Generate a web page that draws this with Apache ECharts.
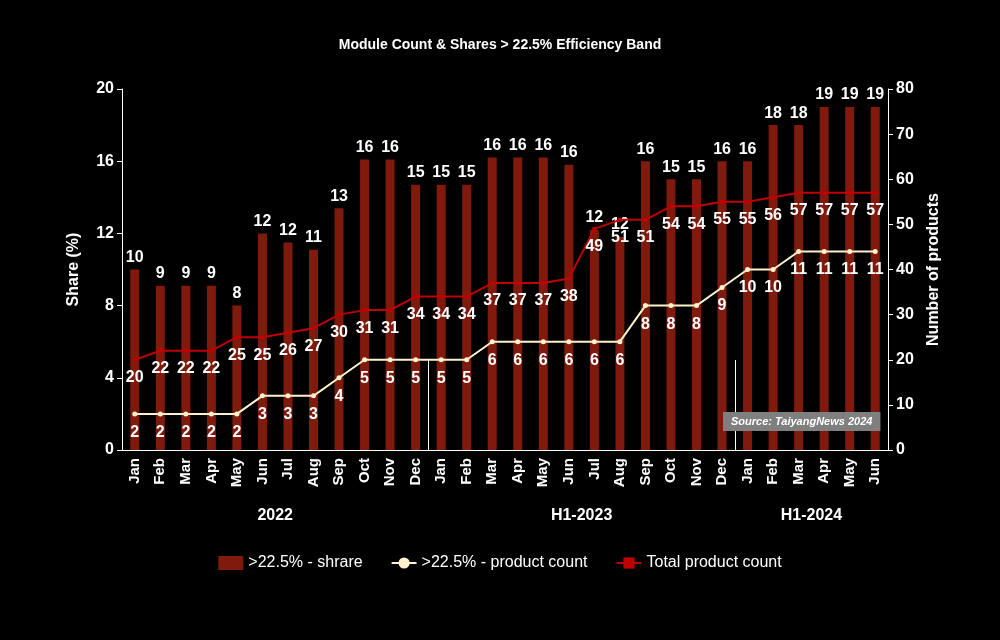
<!DOCTYPE html>
<html><head><meta charset="utf-8">
<script src="https://cdn.jsdelivr.net/npm/echarts@6/dist/echarts.min.js"></script>
<style>html,body{margin:0;background:#000}#c{width:1000px;height:640px}</style>
</head><body><div id="c"></div>
<script>
const months=['Jan','Feb','Mar','Apr','May','Jun','Jul','Aug','Sep','Oct','Nov','Dec','Jan','Feb','Mar','Apr','May','Jun','Jul','Aug','Sep','Oct','Nov','Dec','Jan','Feb','Mar','Apr','May','Jun'];
const groups=['2022','H1-2023','H1-2024'];
const groupCenters=[6,18,27];
const groupBounds=[0,12,24,30];
const share=[10,9.1,9.1,9.1,8,12,11.5,11.1,13.4,16.1,16.1,14.7,14.7,14.7,16.2,16.2,16.2,15.8,12.2,11.8,16,15,15,16,16,18,18,19,19,19];
const shareLabels=[10,9,9,9,8,12,12,11,13,16,16,15,15,15,16,16,16,16,12,12,16,15,15,16,16,18,18,19,19,19];
const count=[2,2,2,2,2,3,3,3,4,5,5,5,5,5,6,6,6,6,6,6,8,8,8,9,10,10,11,11,11,11];
const total=[20,22,22,22,25,25,26,27,30,31,31,34,34,34,37,37,37,38,49,51,51,54,54,55,55,56,57,57,57,57];
const W='#fff', F='Liberation Sans';
const lbl={color:W,fontWeight:'bold',fontSize:16,fontFamily:F};
const chart=echarts.init(document.getElementById('c'));
chart.setOption({
 backgroundColor:'#000',animation:false,
 title:{text:'Module Count & Shares > 22.5% Efficiency Band',left:'center',top:33,textStyle:{color:W,fontSize:14,fontWeight:'bold',fontFamily:F}},
 grid:{left:122,right:112,top:89,bottom:190},
 legend:{bottom:64,left:'center',itemGap:28,textStyle:{color:W,fontSize:16,fontFamily:F},
  data:[{name:'>22.5% - shrare',icon:'rect'},{name:'>22.5% - product count'},{name:'Total product count'}]},
 xAxis:[{type:'category',data:months,axisLine:{lineStyle:{color:W}},
   axisTick:{length:50,lineStyle:{color:W}},
   axisLabel:{rotate:90,color:W,fontSize:15,fontWeight:'bold',fontFamily:F,margin:8}},
  {type:'value',min:0,max:30,position:'bottom',offset:90,axisLine:{show:false},splitLine:{show:false},
   axisTick:{show:true,inside:true,length:90,customValues:groupBounds,lineStyle:{color:W}},
   axisLabel:{show:true,customValues:groupCenters,formatter:v=>groups[groupCenters.indexOf(v)],color:W,fontSize:16,fontWeight:'bold',fontFamily:F,margin:-32}}],
 yAxis:[{type:'value',min:0,max:20,interval:4,name:'Share (%)',nameLocation:'middle',nameGap:40,
   nameTextStyle:{color:W,fontSize:16,fontWeight:'bold',fontFamily:F},
   axisLine:{show:true,lineStyle:{color:W}},axisTick:{show:true,lineStyle:{color:W}},splitLine:{show:false},
   axisLabel:{color:W,fontSize:16,fontWeight:'bold',fontFamily:F}},
  {type:'value',min:0,max:80,interval:10,name:'Number of products',nameLocation:'middle',nameGap:38,
   nameTextStyle:{color:W,fontSize:16,fontWeight:'bold',fontFamily:F},
   axisLine:{show:true,lineStyle:{color:W}},axisTick:{show:true,lineStyle:{color:W}},splitLine:{show:false},
   axisLabel:{color:W,fontSize:16,fontWeight:'bold',fontFamily:F}}],
 series:[
  {name:'>22.5% - shrare',type:'bar',data:share,barWidth:9,itemStyle:{color:'#7f1a0c'},
   label:Object.assign({show:true,position:'top',distance:4,formatter:p=>shareLabels[p.dataIndex]},lbl)},
  {name:'>22.5% - product count',type:'line',data:count,yAxisIndex:0,symbol:'circle',symbolSize:5,
   lineStyle:{color:'#fff2cc',width:2},itemStyle:{color:'#fff2cc'},
   label:Object.assign({show:true,position:'bottom',distance:8},lbl)},
  {name:'Total product count',type:'line',data:total,yAxisIndex:1,symbol:'rect',symbolSize:4,
   lineStyle:{color:'#c00000',width:2},itemStyle:{color:'#c00000'},
   label:Object.assign({show:true,position:'bottom',distance:8},lbl)}
 ],
 graphic:[{type:'text',left:723,top:412,z:10,style:{text:'Source: TaiyangNews 2024',fill:W,font:'italic bold 11px Liberation Sans',backgroundColor:'#7f7f7f',padding:[4,8]}}]
});
</script></body></html>
